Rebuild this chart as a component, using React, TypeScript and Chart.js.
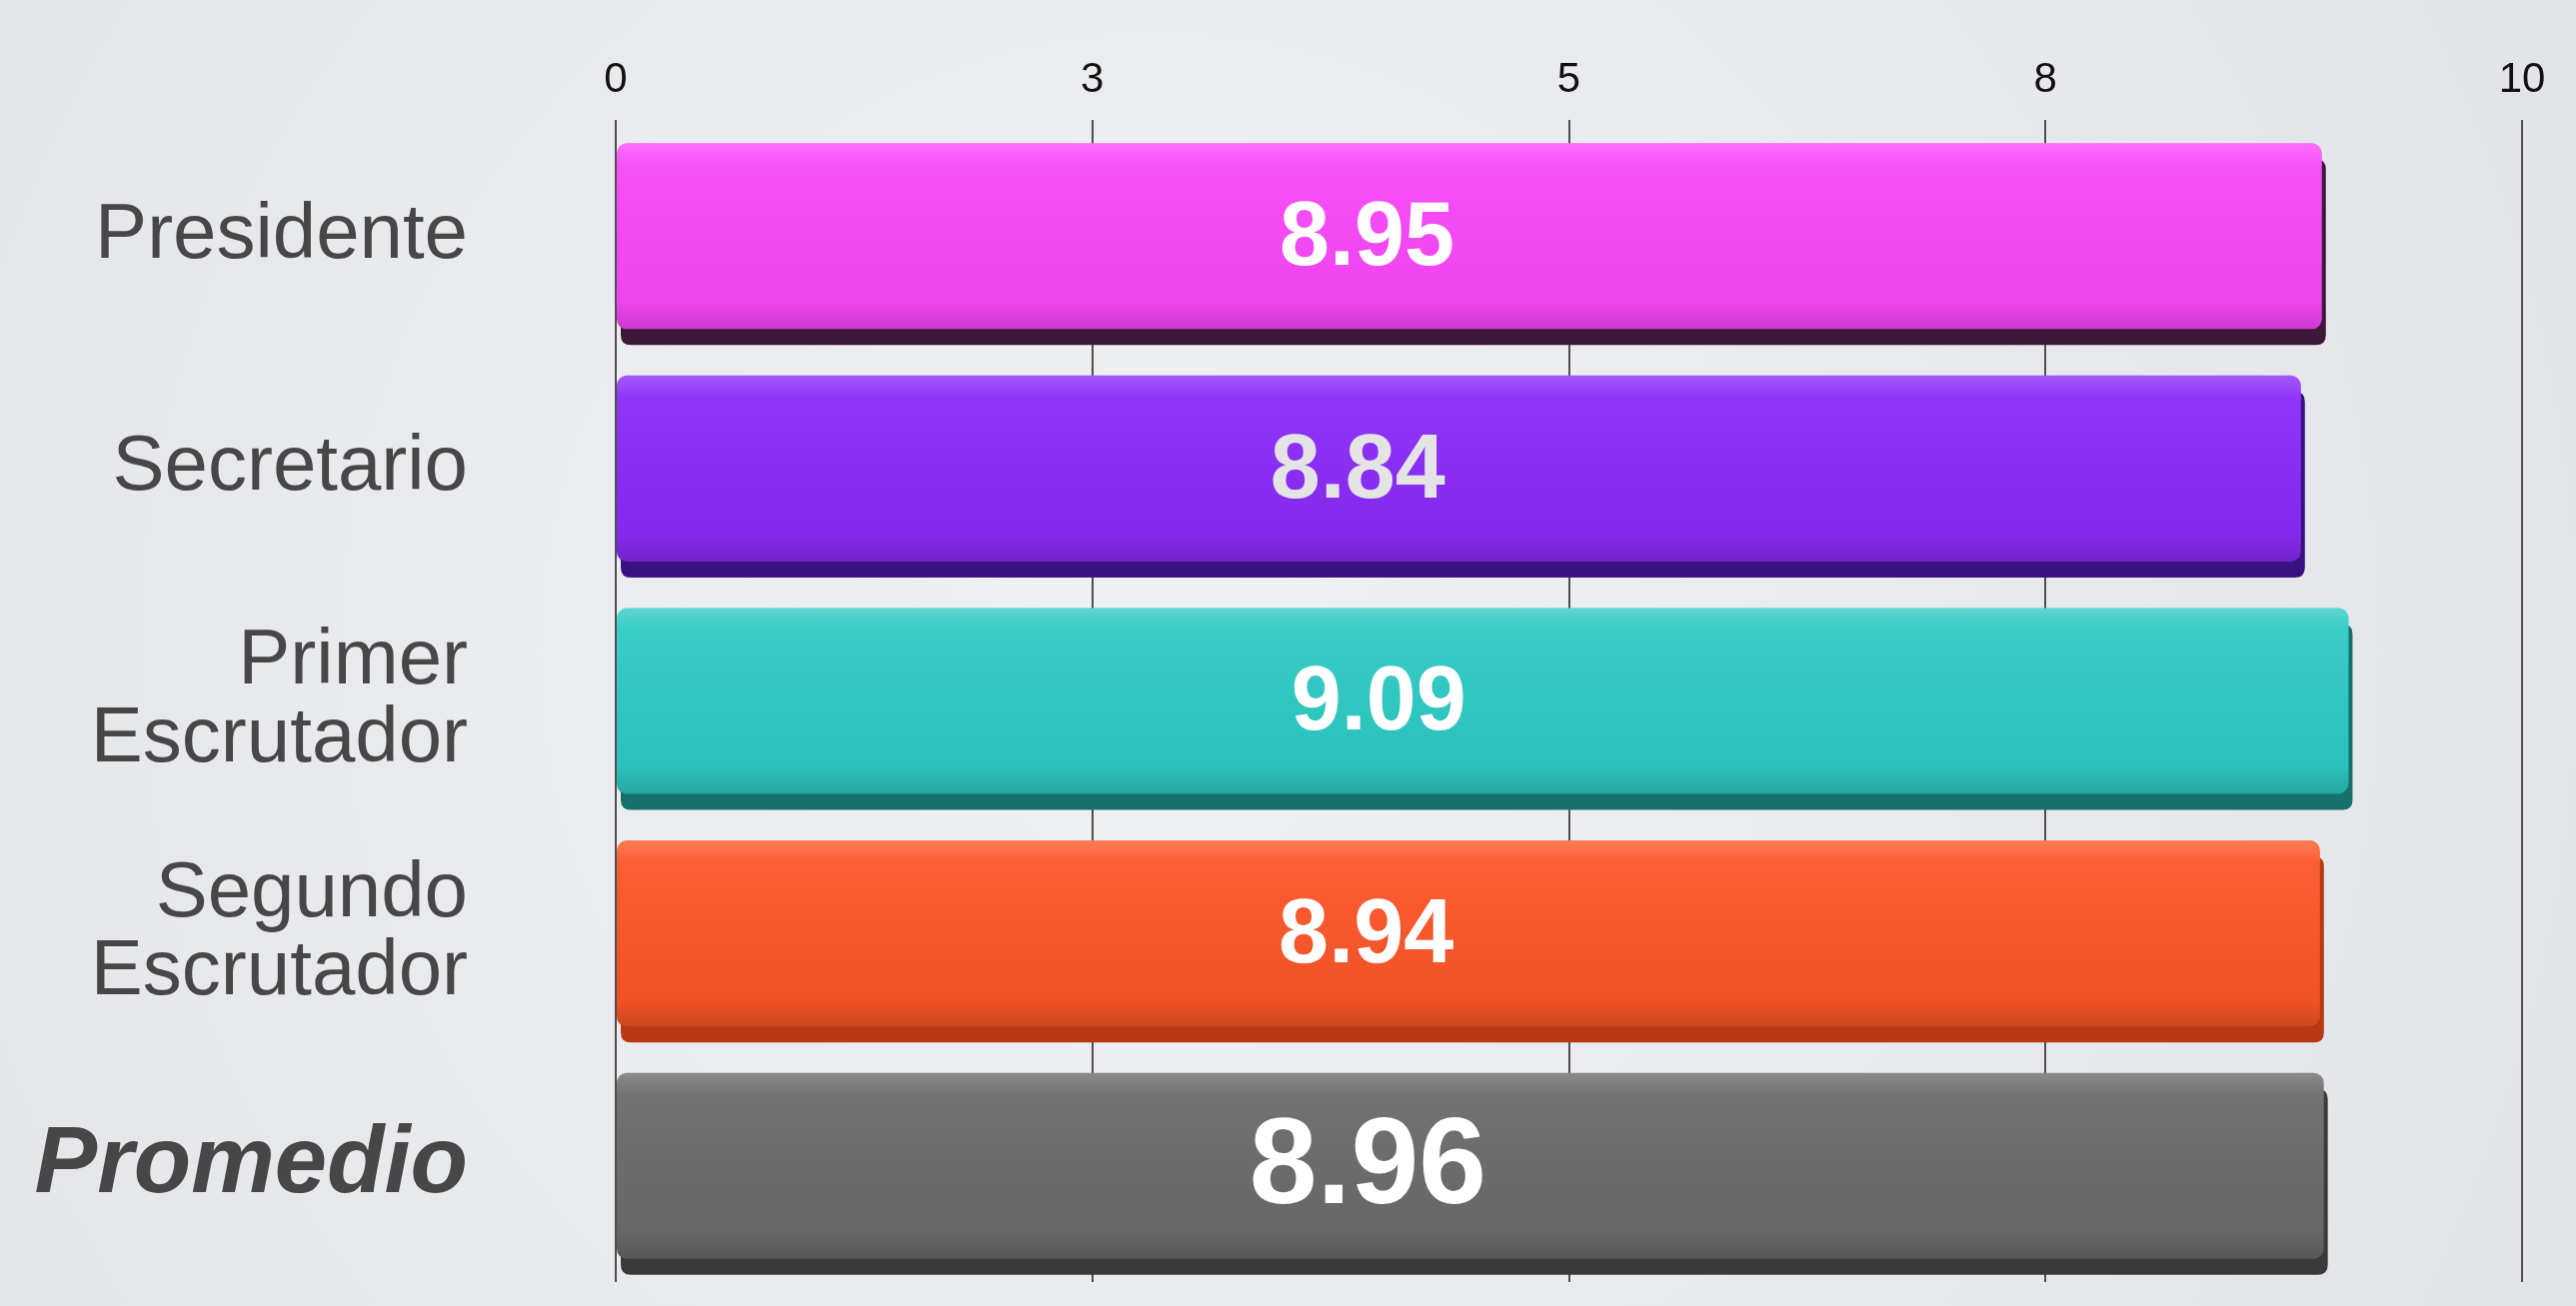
import React, { useEffect, useRef } from "react";
import { Chart, registerables } from "chart.js";

Chart.register(...registerables);

const categories: string[][] = [
  ["Presidente"],
  ["Secretario"],
  ["Primer", "Escrutador"],
  ["Segundo", "Escrutador"],
  ["Promedio"],
];
const values: number[] = [8.95, 8.84, 9.09, 8.94, 8.96];
const barColors: string[] = ["#f847f9", "#8a2bf7", "#2dcac3", "#fb5629", "#6b6b6c"];
const depthColors: string[] = ["#3d1838", "#3a1280", "#17706c", "#b93a12", "#3a3a3a"];
const valueLabelColors: string[] = ["#ffffff", "#e4e4e4", "#ffffff", "#ffffff", "#ffffff"];
const tickValues: number[] = [0, 2.5, 5, 7.5, 10];
const tickLabels: string[] = ["0", "3", "5", "8", "10"];

const W = 2577;
const H = 1307;

const backgroundPlugin = {
  id: "bg",
  beforeDraw(chart: any) {
    const { ctx } = chart;
    ctx.save();
    const g = ctx.createRadialGradient(W * 0.45, H * 0.5, 100, W * 0.45, H * 0.5, W * 0.75);
    g.addColorStop(0, "#eff0f2");
    g.addColorStop(1, "#dfe0e4");
    ctx.fillStyle = g;
    ctx.fillRect(0, 0, W, H);
    ctx.restore();
  },
};

function roundRect(ctx: CanvasRenderingContext2D, x: number, y: number, w: number, h: number, r: number) {
  ctx.beginPath();
  ctx.moveTo(x + r, y);
  ctx.lineTo(x + w - r, y);
  ctx.quadraticCurveTo(x + w, y, x + w, y + r);
  ctx.lineTo(x + w, y + h - r);
  ctx.quadraticCurveTo(x + w, y + h, x + w - r, y + h);
  ctx.lineTo(x + r, y + h);
  ctx.quadraticCurveTo(x, y + h, x, y + h - r);
  ctx.lineTo(x, y + r);
  ctx.quadraticCurveTo(x, y, x + r, y);
  ctx.closePath();
}

const barStylePlugin = {
  id: "barStyle",
  beforeDatasetsDraw(chart: any) {
    const { ctx } = chart;
    const meta = chart.getDatasetMeta(0);
    ctx.save();
    meta.data.forEach((el: any, i: number) => {
      const left = Math.min(el.base, el.x);
      const w = Math.abs(el.x - el.base);
      const top = el.y - el.height / 2;
      ctx.fillStyle = depthColors[i];
      roundRect(ctx, left + 4, top + 16, w, el.height, 10);
      ctx.fill();
    });
    ctx.restore();
  },
  afterDatasetsDraw(chart: any) {
    const { ctx } = chart;
    const meta = chart.getDatasetMeta(0);
    ctx.save();
    meta.data.forEach((el: any, i: number) => {
      const left = Math.min(el.base, el.x);
      const w = Math.abs(el.x - el.base);
      const top = el.y - el.height / 2;
      const g = ctx.createLinearGradient(0, top, 0, top + el.height);
      g.addColorStop(0, "rgba(255,255,255,0.22)");
      g.addColorStop(0.12, "rgba(255,255,255,0.05)");
      g.addColorStop(0.85, "rgba(0,0,0,0.04)");
      g.addColorStop(1, "rgba(0,0,0,0.18)");
      ctx.fillStyle = g;
      roundRect(ctx, left, top, w, el.height, 10);
      ctx.fill();

      const isAvg = i === values.length - 1;
      ctx.font = `bold ${isAvg ? 122 : 90}px "Liberation Sans", Arial, sans-serif`;
      ctx.fillStyle = valueLabelColors[i];
      ctx.textAlign = "center";
      ctx.textBaseline = "middle";
      const lx = el.base + (el.x - el.base) * 0.44;
      ctx.fillText(values[i].toFixed(2), lx, el.y + 4);
    });
    ctx.restore();
  },
};

export default function App() {
  const ref = useRef<HTMLCanvasElement | null>(null);

  useEffect(() => {
    document.body.style.margin = "0";
    const canvas = ref.current;
    if (!canvas) return;
    const chart = new Chart(canvas, {
      type: "bar",
      data: {
        labels: categories,
        datasets: [
          {
            data: values,
            backgroundColor: barColors,
            borderWidth: 0,
            borderRadius: 10,
            borderSkipped: false,
            barPercentage: 0.8,
            categoryPercentage: 1,
          },
        ],
      },
      options: {
        indexAxis: "y",
        responsive: false,
        animation: false,
        devicePixelRatio: 1,
        layout: { padding: { left: 16, right: 54, top: 36, bottom: 24 } },
        plugins: {
          legend: { display: false },
          tooltip: { enabled: false },
          title: { display: false },
        },
        scales: {
          x: {
            position: "top",
            min: 0,
            max: 10,
            afterBuildTicks: (s: any) => {
              s.ticks = tickValues.map((v) => ({ value: v }));
            },
            afterFit: (s: any) => {
              s.height = 84;
              s.paddingLeft = 0;
              s.paddingRight = 0;
              s.paddingTop = 0;
              s.paddingBottom = 0;
            },
            ticks: {
              callback: (_v: any, idx: number) => tickLabels[idx],
              color: "#111111",
              font: { family: '"Liberation Sans", Arial, sans-serif', size: 42 },
              padding: 14,
              maxRotation: 0,
            },
            grid: {
              color: "#4f4f4f",
              lineWidth: 2,
              drawTicks: false,
            },
            border: { display: false },
          },
          y: {
            afterFit: (s: any) => {
              s.width = 600;
              s.paddingTop = 0;
              s.paddingBottom = 0;
              s.paddingLeft = 0;
              s.paddingRight = 0;
            },
            ticks: {
              color: "#474747",
              padding: 140,
              font: (ctx: any) =>
                ctx.index === categories.length - 1
                  ? { family: '"Liberation Sans", Arial, sans-serif', size: 94, weight: "bold", style: "italic", lineHeight: 1 }
                  : { family: '"Liberation Sans", Arial, sans-serif', size: 78, lineHeight: 1.0 },
            },
            grid: { display: false },
            border: { display: false },
          },
        },
      },
      plugins: [backgroundPlugin, barStylePlugin],
    } as any);
    return () => chart.destroy();
  }, []);

  return (
    <div style={{ width: W, height: H }}>
      <canvas ref={ref} width={W} height={H} style={{ display: "block", width: W, height: H }} />
    </div>
  );
}
